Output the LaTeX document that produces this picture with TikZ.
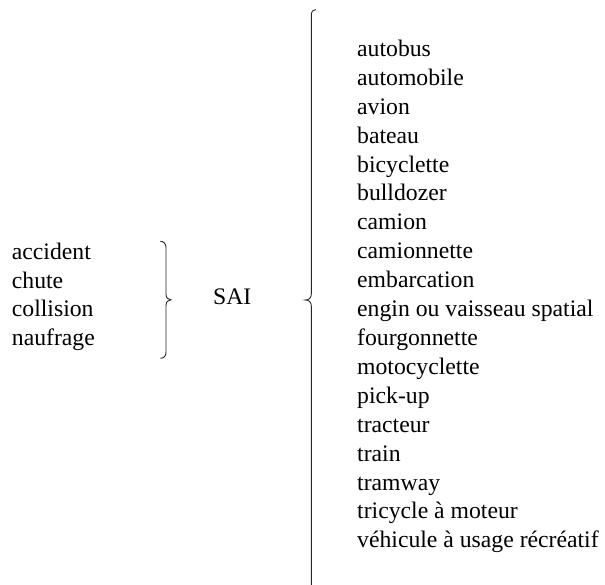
\documentclass[tikz,border=0pt]{standalone}
\usepackage{fontspec}
\setmainfont{Liberation Serif}
\begin{document}
\begin{tikzpicture}[x=1pt,y=-1pt,
  item/.style={anchor=base west,inner sep=0pt,font=\fontsize{23.7}{28}\selectfont},
  bracepath/.style={draw=black!85,line width=0.9pt}]
\useasboundingbox (0,0) rectangle (605,585);
% left group
\foreach \t [count=\i] in {accident,chute,collision,naufrage}
  \node[item] (l\i) at (11.7,{259.5+(\i-1)*28.7}) {\t};
% centre label
\node[item] (sai) at (213,305) {SAI};
% right list
\foreach \t [count=\i] in {autobus,automobile,avion,bateau,bicyclette,bulldozer,camion,camionnette,embarcation,engin ou vaisseau spatial,fourgonnette,motocyclette,pick-up,tracteur,train,tramway,tricycle à moteur,véhicule à usage récréatif}
  \node[item] (r\i) at (357,{56.5+(\i-1)*28.9}) {\t};
% left brace
\draw[bracepath] (160.3,241.3) .. controls (163.5,241.3) and (166,243.5) .. (166,247.5)
  -- (166,294) .. controls (166,297.8) and (168,299.8) .. (171,299.8)
  .. controls (168,299.8) and (166,301.8) .. (166,305.6)
  -- (166,352.3) .. controls (166,356.3) and (163.5,358.3) .. (160.3,358.3);
% large brace (bottom runs off the picture)
\draw[bracepath] (315.8,9.5) .. controls (313,9.5) and (311.3,11.5) .. (311.3,15.5)
  -- (311.3,294) .. controls (311.3,298) and (309,300) .. (305.3,300)
  .. controls (309,300) and (311.3,302) .. (311.3,306)
  -- (311.3,585);
\end{tikzpicture}
\end{document}
